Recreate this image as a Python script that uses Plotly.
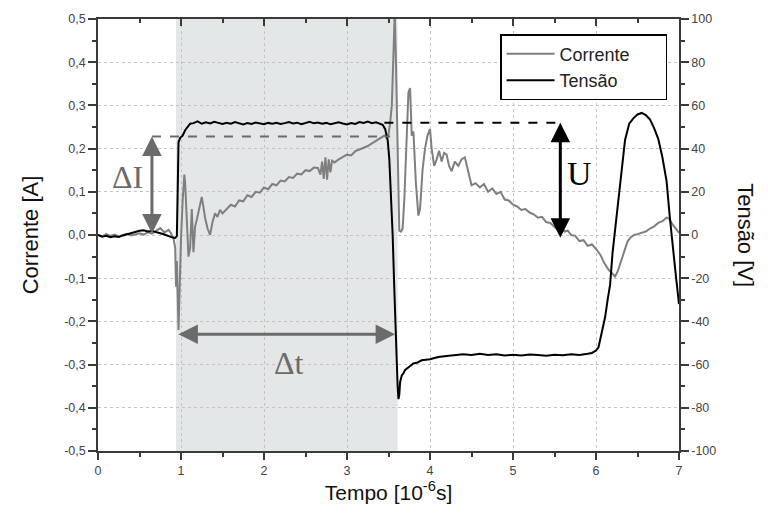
import plotly.graph_objects as go

# ---------------- data ----------------
t_corrente = [0.00, 0.05, 0.10, 0.15, 0.20, 0.25, 0.30, 0.35, 0.40, 0.45, 0.50, 0.55, 0.60, 0.65,
              0.70, 0.75, 0.80, 0.85, 0.88, 0.91, 0.93, 0.94, 0.95, 0.96, 0.97, 0.98, 0.99, 1.00,
              1.02, 1.04, 1.05, 1.07, 1.09, 1.11, 1.13, 1.15, 1.17, 1.19, 1.22, 1.25, 1.27, 1.29,
              1.32, 1.35, 1.38, 1.41, 1.44, 1.47, 1.50, 1.55, 1.60, 1.65, 1.70, 1.75, 1.80, 1.85,
              1.90, 1.95, 2.00, 2.05, 2.10, 2.15, 2.20, 2.25, 2.30, 2.35, 2.40, 2.45, 2.50, 2.55,
              2.60, 2.65, 2.68, 2.70, 2.72, 2.74, 2.76, 2.78, 2.80, 2.82, 2.85, 2.90, 2.95, 3.00,
              3.05, 3.10, 3.15, 3.20, 3.25, 3.30, 3.35, 3.40, 3.45, 3.48, 3.50, 3.52, 3.54, 3.56,
              3.575, 3.59, 3.61, 3.63, 3.65, 3.67, 3.69, 3.72, 3.74, 3.76, 3.78, 3.80, 3.83, 3.86,
              3.88, 3.91, 3.94, 3.97, 4.00, 4.02, 4.05, 4.08, 4.11, 4.14, 4.17, 4.20, 4.23, 4.26,
              4.30, 4.34, 4.38, 4.42, 4.46, 4.50, 4.55, 4.60, 4.65, 4.70, 4.75, 4.80, 4.85, 4.90,
              4.95, 5.00, 5.05, 5.10, 5.15, 5.20, 5.25, 5.30, 5.35, 5.40, 5.45, 5.50, 5.55, 5.58,
              5.62, 5.66, 5.70, 5.75, 5.80, 5.85, 5.90, 5.95, 6.00, 6.05, 6.10, 6.15, 6.20, 6.23,
              6.26, 6.30, 6.34, 6.38, 6.42, 6.46, 6.50, 6.55, 6.60, 6.65, 6.70, 6.75, 6.80, 6.85,
              6.88, 6.92, 6.96, 7.00]
corrente = [0.000, -0.003, 0.002, -0.002, 0.001, -0.004, 0.000, 0.003, -0.001, 0.002, 0.004, 0.001,
            0.006, 0.003, 0.010, 0.016, 0.006, 0.012, 0.004, -0.008, -0.030, -0.120, -0.060, -0.200,
            -0.220, -0.150, -0.060, -0.010, 0.080, 0.140, 0.120, 0.020, -0.050, -0.030, 0.060,
            -0.040, 0.020, 0.035, 0.060, 0.088, 0.065, 0.040, 0.015, 0.000, 0.030, 0.050, 0.042,
            0.058, 0.050, 0.060, 0.070, 0.066, 0.080, 0.078, 0.092, 0.088, 0.100, 0.098, 0.110,
            0.106, 0.118, 0.115, 0.126, 0.124, 0.134, 0.132, 0.142, 0.140, 0.150, 0.148, 0.156,
            0.155, 0.140, 0.170, 0.130, 0.180, 0.128, 0.175, 0.145, 0.172, 0.168, 0.175, 0.180,
            0.186, 0.184, 0.194, 0.198, 0.202, 0.206, 0.212, 0.218, 0.226, 0.230, 0.224, 0.232,
            0.260, 0.300, 0.420, 0.520, 0.400, 0.150, 0.010, 0.008, 0.015, 0.080, 0.250, 0.330,
            0.340, 0.230, 0.240, 0.120, 0.045, 0.060, 0.150, 0.200, 0.230, 0.245, 0.200, 0.160,
            0.175, 0.195, 0.170, 0.190, 0.186, 0.160, 0.148, 0.170, 0.160, 0.175, 0.180, 0.150,
            0.115, 0.120, 0.110, 0.118, 0.100, 0.108, 0.095, 0.100, 0.082, 0.080, 0.070, 0.066,
            0.058, 0.060, 0.052, 0.048, 0.040, 0.042, 0.030, 0.028, 0.020, 0.010, 0.018, 0.008,
            0.010, 0.000, -0.002, -0.014, -0.012, -0.025, -0.022, -0.032, -0.045, -0.065, -0.080,
            -0.090, -0.096, -0.085, -0.060, -0.040, -0.015, -0.005, 0.000, 0.002, 0.005, 0.008,
            0.015, 0.020, 0.028, 0.032, 0.040, 0.038, 0.025, 0.015, 0.005]

t_tensao = [0.00, 0.05, 0.10, 0.15, 0.20, 0.25, 0.30, 0.35, 0.40, 0.45, 0.50, 0.55, 0.60, 0.65,
            0.70, 0.75, 0.80, 0.85, 0.90, 0.93, 0.95, 0.96, 0.965, 0.97, 0.99, 1.02, 1.05, 1.08,
            1.11, 1.15, 1.20, 1.25, 1.30, 1.35, 1.40, 1.45, 1.50, 1.55, 1.60, 1.65, 1.70, 1.75,
            1.80, 1.85, 1.90, 1.95, 2.00, 2.05, 2.10, 2.15, 2.20, 2.25, 2.30, 2.35, 2.40, 2.45,
            2.50, 2.55, 2.60, 2.65, 2.70, 2.75, 2.80, 2.85, 2.90, 2.95, 3.00, 3.05, 3.10, 3.15,
            3.20, 3.25, 3.30, 3.35, 3.40, 3.43, 3.46, 3.49, 3.51, 3.53, 3.55, 3.57, 3.59, 3.61,
            3.62, 3.63, 3.64, 3.66, 3.68, 3.70, 3.75, 3.80, 3.85, 3.90, 4.00, 4.10, 4.20, 4.30,
            4.40, 4.50, 4.60, 4.70, 4.80, 4.90, 5.00, 5.10, 5.20, 5.30, 5.40, 5.50, 5.60, 5.70,
            5.80, 5.90, 5.95, 6.00, 6.03, 6.07, 6.11, 6.14, 6.17, 6.20, 6.25, 6.30, 6.35, 6.40,
            6.45, 6.50, 6.55, 6.60, 6.65, 6.70, 6.75, 6.80, 6.85, 6.89, 6.93, 6.96, 6.98, 7.00]
tensao = [0.0, -0.8, -0.4, -1.0, -0.6, -0.9, -0.2, 0.4, 0.9, 1.4, 2.0, 2.2, 1.6, 1.9, 1.5, 0.8,
          0.2, -0.6, -1.2, -1.4, -0.5, 20.0, 40.0, 43.0, 45.0, 46.0, 48.5, 50.0, 51.5, 51.8, 52.6,
          51.5, 52.2, 51.6, 52.4, 51.9, 51.4, 52.0, 51.5, 52.3, 51.7, 51.2, 51.8, 51.4, 52.1, 51.6,
          51.3, 51.9, 51.5, 52.0, 51.4, 51.8, 52.3, 51.6, 52.0, 51.3, 51.8, 52.4, 51.7, 52.1, 51.5,
          51.9, 51.3, 51.7, 52.2, 51.6, 51.2, 51.8, 51.4, 52.3, 51.9, 52.5, 51.8, 52.2, 51.6, 51.0,
          49.0, 44.0, 35.0, 20.0, 0.0, -25.0, -50.0, -70.0, -76.0, -74.0, -68.0, -65.0, -64.0,
          -62.5, -61.0, -59.5, -59.0, -58.0, -57.5, -56.5, -56.0, -55.5, -55.2, -55.5, -55.0,
          -55.6, -55.2, -55.8, -55.4, -55.8, -55.3, -55.6, -55.9, -55.4, -55.7, -55.2, -55.5,
          -55.0, -54.6, -53.5, -52.0, -45.0, -38.0, -30.0, -23.0, -8.0, 10.0, 28.0, 44.0, 51.5,
          54.0, 55.8, 56.5, 55.5, 53.5, 49.5, 44.5, 36.0, 25.0, 8.0, -9.0, -18.0, -25.0, -32.0]

x_ticks = [0, 1, 2, 3, 4, 5, 6, 7]
y_ticks = [-0.5, -0.4, -0.3, -0.2, -0.1, 0.0, 0.1, 0.2, 0.3, 0.4, 0.5]
y_ticklabels = ["-0,5", "-0,4", "-0,3", "-0,2", "-0,1", "0,0", "0,1", "0,2", "0,3", "0,4", "0,5"]
y2_ticks = [-100, -80, -60, -40, -20, 0, 20, 40, 60, 80, 100]
y2_ticklabels = ["-100", "-80", "-60", "-40", "-20", "0", "20", "40", "60", "80", "100"]

# annotation values
shade_start, shade_end = 0.94, 3.61
dI_x, dI_low, dI_high = 0.65, 0.0, 0.228
dI_dash_end = 3.52
dt_y, dt_start, dt_end = -0.23, 0.95, 3.58
U_x, U_low, U_high = 5.57, -2.0, 52.0
U_dash_start = 3.45

GRAY = "#7f7f7f"
ARROW_GRAY = "#6b6b6b"
AXIS = "#3a3a3a"
GRID = "#c4c4c4"
TICKFONT = dict(family="Liberation Sans, Arial, sans-serif", size=12.5, color="#444")
NB = "\u00a0"

fig = go.Figure()
fig.add_trace(go.Scatter(x=t_corrente, y=corrente, mode="lines", name="Corrente" + NB * 6,
                         line=dict(color=GRAY, width=2), yaxis="y"))
fig.add_trace(go.Scatter(x=t_tensao, y=tensao, mode="lines", name="Tensão",
                         line=dict(color="black", width=2), yaxis="y2"))
# helper trace for top axis ticks
fig.add_trace(go.Scatter(x=[0], y=[0], xaxis="x2", yaxis="y", mode="markers",
                         marker=dict(opacity=0), showlegend=False, hoverinfo="skip"))

fig.update_layout(
    width=768, height=513,
    margin=dict(l=98, r=89, t=17, b=62),
    paper_bgcolor="white", plot_bgcolor="white",
    font=dict(family="Liberation Sans, Arial, sans-serif", color="#222"),
    xaxis=dict(range=[0, 7], tickvals=x_ticks, ticks="outside", ticklen=7, tickwidth=1.5,
               tickcolor=AXIS, showline=True, linecolor=AXIS, linewidth=1.5,
               showgrid=True, gridcolor=GRID, griddash="dot", gridwidth=1, zeroline=False,
               minor=dict(dtick=0.5, ticks="outside", ticklen=4, tickcolor=AXIS, showgrid=False),
               tickfont=TICKFONT,
               title=dict(text="Tempo [10<sup>-6</sup>s]", font=dict(size=21, color="#111"), standoff=5)),
    xaxis2=dict(range=[0, 7], overlaying="x", side="top", tickvals=x_ticks, ticks="inside",
                ticklen=7, tickwidth=1.5, tickcolor=AXIS, showline=True, linecolor=AXIS,
                linewidth=1.5, showticklabels=False, showgrid=False, zeroline=False,
                minor=dict(dtick=0.5, ticks="inside", ticklen=4, tickcolor=AXIS)),
    yaxis=dict(range=[-0.5, 0.5], tickvals=y_ticks, ticktext=y_ticklabels, ticks="outside",
               ticklen=8, tickwidth=1.5, tickcolor=AXIS, showline=True, linecolor=AXIS,
               linewidth=1.5, showgrid=True, gridcolor=GRID, griddash="dot", zeroline=False,
               minor=dict(dtick=0.05, ticks="outside", ticklen=4, tickcolor=AXIS, showgrid=False),
               tickfont=TICKFONT,
               title=dict(text="Corrente [A]", font=dict(size=22, color="#111"), standoff=20)),
    yaxis2=dict(range=[-100, 100], overlaying="y", side="right", tickvals=y2_ticks,
                ticktext=y2_ticklabels, ticks="outside", ticklen=8, tickwidth=1.5,
                tickcolor=AXIS, showline=True, linecolor=AXIS, linewidth=1.5,
                showgrid=False, zeroline=False,
                minor=dict(dtick=10, ticks="outside", ticklen=4, tickcolor=AXIS),
                tickfont=TICKFONT),
    legend=dict(x=0.692, y=0.965, xanchor="left", yanchor="top",
                bgcolor="white", bordercolor="black", borderwidth=1.5,
                font=dict(size=18, color="#222"), itemwidth=48),
    showlegend=True,
)

shapes = [
    dict(type="rect", xref="x", yref="paper", x0=shade_start, x1=shade_end, y0=0, y1=1,
         fillcolor="#e4e7e8", line=dict(width=0), layer="below"),
    dict(type="line", xref="x", yref="y", x0=dI_x, x1=dI_dash_end, y0=dI_high, y1=dI_high,
         line=dict(color=ARROW_GRAY, width=2, dash="dash")),
    dict(type="line", xref="x", yref="y2", x0=U_dash_start, x1=U_x, y0=U_high, y1=U_high,
         line=dict(color="black", width=2, dash="dash")),
]
fig.update_layout(shapes=shapes)

serif = "Liberation Serif, DejaVu Serif, serif"
annotations = [
    # ΔI arrow
    dict(x=dI_x, y=dI_high, ax=dI_x, ay=dI_low, xref="x", yref="y", axref="x", ayref="y",
         showarrow=True, arrowhead=2, arrowside="end+start", arrowsize=1.3, arrowwidth=3,
         arrowcolor=ARROW_GRAY, text=""),
    dict(x=0.36, y=0.135, xref="x", yref="y", text="ΔI", showarrow=False,
         font=dict(family=serif, size=32, color=ARROW_GRAY)),
    # Δt arrow
    dict(x=dt_end, y=dt_y, ax=dt_start, ay=dt_y, xref="x", yref="y", axref="x", ayref="y",
         showarrow=True, arrowhead=2, arrowside="end+start", arrowsize=1.3, arrowwidth=3,
         arrowcolor=ARROW_GRAY, text=""),
    dict(x=2.3, y=-0.297, xref="x", yref="y", text="Δt", showarrow=False,
         font=dict(family=serif, size=32, color=ARROW_GRAY)),
    # U arrow
    dict(x=U_x, y=U_high, ax=U_x, ay=U_low, xref="x", yref="y2", axref="x", ayref="y2",
         showarrow=True, arrowhead=2, arrowside="end+start", arrowsize=1.3, arrowwidth=3,
         arrowcolor="black", text=""),
    dict(x=5.8, y=28.5, xref="x", yref="y2", text="U", showarrow=False,
         font=dict(family=serif, size=34, color="black")),
    # right axis title
    dict(x=1.14, y=0.5, xref="paper", yref="paper", text="Tensão [V]", textangle=90,
         showarrow=False, font=dict(size=22, color="#111")),
]
fig.update_layout(annotations=annotations)

fig.write_html("out.html")
